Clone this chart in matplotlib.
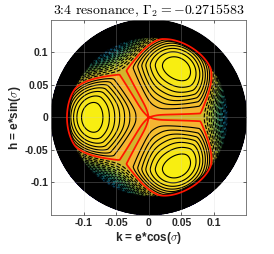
import numpy as np
import matplotlib

matplotlib.use("Agg")
import matplotlib.pyplot as plt
from matplotlib.colors import LinearSegmentedColormap, Normalize
from matplotlib.patches import Circle

# disk of the phase portrait (e <= E_MAX), k = e cos(sigma), h = e sin(sigma)
E_MAX = 0.15

# model of the Hamiltonian (units = one contour step)
LOBE_PEAK = 7.8          # height of the three islands above the separatrix
LOBE_ZERO = 0.88         # e / E_MAX where the island profile returns to zero
ANG_MIX = 0.5            # angular shape of the islands
VALLEY_FLOOR = -0.15     # depth of the narrow channels between islands
VALLEY_FLOOR_SCALE = 0.08
VALLEY_START = 0.5275    # where the channels start to drop towards the rim
VALLEY_COEF = 101.9
VALLEY_POW = 1.5
WALL_START = 0.80
WALL_K = 1500.0

LEVEL_MIN = -180
LEVEL_MAX = 8
LEVEL_STEP = 1.0
SEPARATRIX = 0.0
DARK_FROM = 0.5          # contour lines per pixel where the fill starts to vanish
DARK_FULL = 1.1          # ... and where only black is left

# colour scale (parula-like), value -> colour
CMAP_VALUES = [-24, -18, -14, -11, -9, -6, -3.5, -1.5, -0.5, 0.5, 3, 7.8]
CMAP_COLORS = ["#352a87", "#0363e1", "#1490d6", "#1fa8b8", "#3cb79a",
               "#80bf55", "#aabd3a", "#c8b92d", "#cfb62c", "#f5b432",
               "#f6cc2a", "#f8f010"]

x_ticks = [-0.1, -0.05, 0, 0.05, 0.1]
x_tick_labels = ["-0.1", "-0.05", "0", "0.05", "0.1"]
y_ticks = [-0.1, -0.05, 0, 0.05, 0.1]
y_tick_labels = ["-0.1", "-0.05", "0", "0.05", "0.1"]

title = r"3:4 resonance, $\Gamma_2 = -0.2715583$"
x_label = r"k = e*cos($\sigma$)"
y_label = r"h = e*sin($\sigma$)"


def hamiltonian(X, Y):
    e = np.hypot(X, Y)
    sig = np.arctan2(Y, X)
    u = e / E_MAX
    c3 = -np.cos(3 * sig)  # +1 on the island axes (60, 180, 300 deg)
    s = (1 - c3) / 2
    g = 1 - ANG_MIX * s - (1 - ANG_MIX) * s ** 2
    lobe_a = 27 * LOBE_PEAK / (4 * LOBE_ZERO ** 2)
    f_lobe = lobe_a * u ** 2 * (1 - u / LOBE_ZERO)
    f_valley = (VALLEY_FLOOR * (1 - np.exp(-(u / VALLEY_FLOOR_SCALE) ** 2))
                - VALLEY_COEF * np.clip(u - VALLEY_START, 0, None) ** VALLEY_POW)
    wall = -WALL_K * np.clip(u - WALL_START, 0, None) ** 2
    H = f_valley + (f_lobe - f_valley) * g + wall
    H[e > E_MAX] = np.nan
    return H


def draw():
    grid = np.linspace(-E_MAX, E_MAX, 901)
    X, Y = np.meshgrid(grid, grid)
    H = hamiltonian(X, Y)

    vmin, vmax = CMAP_VALUES[0], CMAP_VALUES[-1]
    pos = [(v - vmin) / (vmax - vmin) for v in CMAP_VALUES]
    cmap = LinearSegmentedColormap.from_list("parulaish", list(zip(pos, CMAP_COLORS)))
    norm = Normalize(vmin=vmin, vmax=vmax, clip=True)

    levels = np.arange(LEVEL_MIN, LEVEL_MAX + 0.5, LEVEL_STEP)

    fig = plt.figure(figsize=(2.74, 2.54), dpi=100)
    ax = fig.add_axes([0.185, 0.154, 0.716, 0.768])

    ax.add_patch(Circle((0, 0), E_MAX * 0.998, color="k", zorder=0.5))
    ax.contourf(X, Y, H, levels=levels, cmap=cmap, norm=norm, zorder=1)

    # where the contour lines are packed tighter than a pixel they merge into black
    px = 2 * E_MAX / (0.716 * 274)
    dHy, dHx = np.gradient(H, grid, grid)
    density = np.nan_to_num(np.hypot(dHx, dHy) * px, nan=0.0)
    shade = np.zeros(H.shape + (4,))
    shade[..., 3] = np.clip((density - DARK_FROM) / (DARK_FULL - DARK_FROM), 0, 1)
    shade[np.isnan(H), 3] = 0
    ax.imshow(shade, extent=(-E_MAX, E_MAX, -E_MAX, E_MAX), origin="lower",
              interpolation="bilinear", zorder=1.5)

    black = levels[levels != SEPARATRIX]
    ax.contour(X, Y, H, levels=black, colors="k", linewidths=0.8, zorder=2)
    ax.contour(X, Y, H, levels=[SEPARATRIX], colors="#ff1500", linewidths=1.25,
               zorder=3)

    ax.set_xlim(-E_MAX, E_MAX)
    ax.set_ylim(-E_MAX, E_MAX)
    ax.set_aspect("equal")

    tick_font = dict(fontsize=7.5, fontweight="bold", family="Liberation Sans",
                     color="#262626")
    ax.set_xticks(x_ticks)
    ax.set_xticklabels(x_tick_labels, **tick_font)
    ax.set_yticks(y_ticks)
    ax.set_yticklabels(y_tick_labels, **tick_font)
    ax.tick_params(direction="in", length=2.5, width=0.5, top=True, right=True,
                   pad=2, colors="#262626")

    ax.grid(True, color="#d0d0d0", alpha=0.35, linewidth=0.5, zorder=4)
    ax.set_axisbelow(False)
    for sp in ax.spines.values():
        sp.set_color("#666666")
        sp.set_linewidth(0.6)

    label_font = dict(fontsize=8.5, fontweight="bold", family="Liberation Sans",
                      color="#262626", math_fontfamily="cm")
    ax.set_xlabel(x_label, labelpad=2, **label_font)
    ax.set_ylabel(y_label, labelpad=1, **label_font)
    ax.set_title(title, fontsize=10, family="cmr10", math_fontfamily="cm", pad=4)

    fig.savefig("out.png", dpi=100)


if __name__ == "__main__":
    draw()
